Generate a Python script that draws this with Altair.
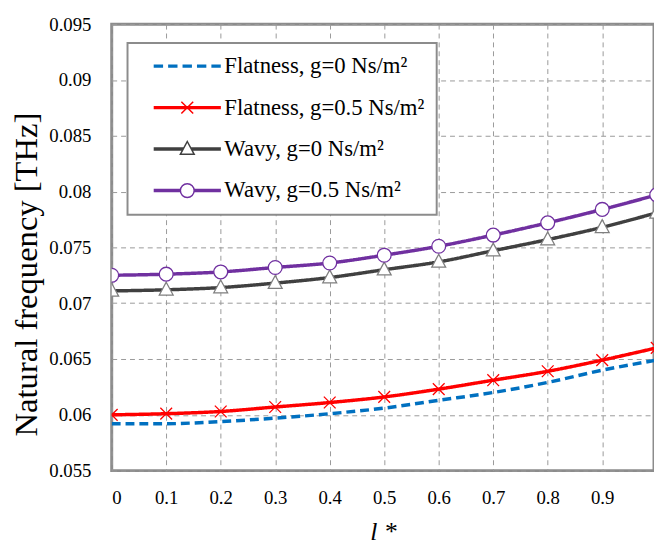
import altair as alt
import pandas as pd

# ---- data ----
l_star = [0.0, 0.1, 0.2, 0.3, 0.4, 0.5, 0.6, 0.7, 0.8, 0.9, 1.0]
flat_g0 = [0.0592, 0.0592, 0.0594, 0.0597, 0.0601, 0.0606, 0.0613, 0.0620, 0.0629, 0.0640, 0.0649]
flat_g05 = [0.0600, 0.0601, 0.0603, 0.0607, 0.0611, 0.0616, 0.0623, 0.0631, 0.0639, 0.0649, 0.0660]
wavy_g0 = [0.0711, 0.0712, 0.0714, 0.0718, 0.0723, 0.0730, 0.0737, 0.0747, 0.0757, 0.0768, 0.0781]
wavy_g05 = [0.0725, 0.0726, 0.0728, 0.0732, 0.0736, 0.0743, 0.0751, 0.0761, 0.0772, 0.0784, 0.0797]

series_names = [
    "Flatness, g=0 Ns/m²",
    "Flatness, g=0.5 Ns/m²",
    "Wavy, g=0 Ns/m²",
    "Wavy, g=0.5 Ns/m²",
]
series_values = [flat_g0, flat_g05, wavy_g0, wavy_g05]
x_ticks = [0, 0.1, 0.2, 0.3, 0.4, 0.5, 0.6, 0.7, 0.8, 0.9]
y_ticks = [0.055, 0.06, 0.065, 0.07, 0.075, 0.08, 0.085, 0.09, 0.095]

rows = []
for name, vals in zip(series_names, series_values):
    for x, v in zip(l_star, vals):
        rows.append({"l": x, "f": v, "series": name})
df = pd.DataFrame(rows)

# ---- styles ----
line_colors = ["#0070C0", "#FF0000", "#404040", "#7030A0"]
marker_colors = ["#FF0000", "#7F7F7F", "#7030A0"]
FONT = "Liberation Serif"

# custom marker paths (unit square)
circle_p = "M-1,0A1,1 0 1,0 1,0A1,1 0 1,0 -1,0Z"
tri_p = "M0,-1.1L1,0.76L-1,0.76Z"
cross_p = "M-0.85,-0.85L0.85,0.85M-0.85,0.85L0.85,-0.85"

# legend symbol paths: symbol size 196 -> 1 unit = 7 px, left edge at -1
U = 7.0


def u(px):
    return px / U - 1


def seg(x0, x1):
    return "".join(f"M{u(x0):.3f},{dy}H{u(x1):.3f}" for dy in (-0.143, 0, 0.143))


L = 68
c = L / 2
leg_flat0 = "".join(seg(a, a + 9.5) for a in [0, 14.6, 29.2, 43.8, 58.4])
leg_cross = seg(0, L) + (
    f"M{u(c - 6):.3f},-0.857L{u(c + 6):.3f},0.857M{u(c - 6):.3f},0.857L{u(c + 6):.3f},-0.857"
)
leg_tri = seg(0, c - 4) + seg(c + 4, L) + (
    f"M{u(c):.3f},-1.1L{u(c + 7):.3f},0.76L{u(c - 7):.3f},0.76Z"
)
leg_circ = seg(0, c - 7) + seg(c + 7, L) + (
    f"M{u(c - 7):.3f},0A1,1 0 1,0 {u(c + 7):.3f},0A1,1 0 1,0 {u(c - 7):.3f},0Z"
)

x_enc = alt.X(
    "l:Q",
    scale=alt.Scale(domain=[0, 0.995], nice=False, zero=False),
    axis=alt.Axis(
        values=x_ticks, format=".1~f", title="l *", titleFontStyle="italic",
        titleFontSize=26, titleFontWeight="normal", titlePadding=12,
        labelPadding=18, labelFont=FONT,
    ),
)
y_enc = alt.Y(
    "f:Q",
    scale=alt.Scale(domain=[0.055, 0.095], nice=False, zero=False),
    axis=alt.Axis(
        values=y_ticks, format=".3~f", title="Natural frequency [THz]",
        titleFontSize=33, titleFontWeight="normal", titlePadding=5,
        titleY=253, labelPadding=21, labelFont=FONT,
    ),
)

lines = alt.Chart(df).mark_line(interpolate="monotone", strokeWidth=3.5, clip=True).encode(
    x=x_enc,
    y=y_enc,
    color=alt.Color("series:N", scale=alt.Scale(domain=series_names, range=line_colors), legend=None),
    strokeDash=alt.StrokeDash(
        "series:N",
        scale=alt.Scale(domain=series_names, range=[[9, 5], [1, 0], [1, 0], [1, 0]]),
        legend=None,
    ),
)

points = alt.Chart(df).transform_filter(
    alt.datum.series != series_names[0]
).mark_point(filled=False, fill="white", size=196, strokeWidth=1.3, opacity=1, clip=True).encode(
    x="l:Q",
    y="f:Q",
    color=alt.Color("series:N", scale=alt.Scale(domain=series_names[1:], range=marker_colors), legend=None),
    shape=alt.Shape("series:N", scale=alt.Scale(domain=series_names[1:], range=[cross_p, tri_p, circle_p]), legend=None),
)

legend_layer = alt.Chart(df).mark_point(filled=False, fill="white", size=196, opacity=0, clip=True).encode(
    x="l:Q",
    y="f:Q",
    color=alt.Color(
        "series:N",
        scale=alt.Scale(domain=series_names, range=line_colors),
        legend=alt.Legend(
            title=None, orient="none", legendX=16, legendY=19,
            fillColor="white", strokeColor="#8C8C8C",
            padding=12, symbolOffset=10, labelOffset=53,
            labelFont=FONT, labelFontSize=23, labelColor="black", labelLimit=400,
            rowPadding=18, symbolSize=196, symbolStrokeWidth=1.5,
            symbolOpacity=1, symbolFillColor="white",
        ),
    ),
    shape=alt.Shape(
        "series:N",
        scale=alt.Scale(domain=series_names, range=[leg_flat0, leg_cross, leg_tri, leg_circ]),
        legend=alt.Legend(title=None),
    ),
)

chart = alt.layer(lines, points, legend_layer).resolve_scale(
    color="independent", shape="independent", strokeDash="independent"
).properties(
    width=549,
    height=452,
    autosize=alt.AutoSizeParams(type="none"),
    padding={"left": 105, "top": 13, "right": 0, "bottom": 75},
).configure_view(
    stroke="#8C8C8C", strokeWidth=3
).configure_legend(
    strokeWidth=2
).configure_axis(
    labelFont=FONT, titleFont=FONT, labelFontSize=19, labelColor="black",
    titleColor="black", ticks=False, domain=False,
    grid=True, gridColor="#999999", gridDash=[5, 4], gridWidth=1,
)

chart.save("out.html", embed_options={"renderer": "svg", "actions": False})
